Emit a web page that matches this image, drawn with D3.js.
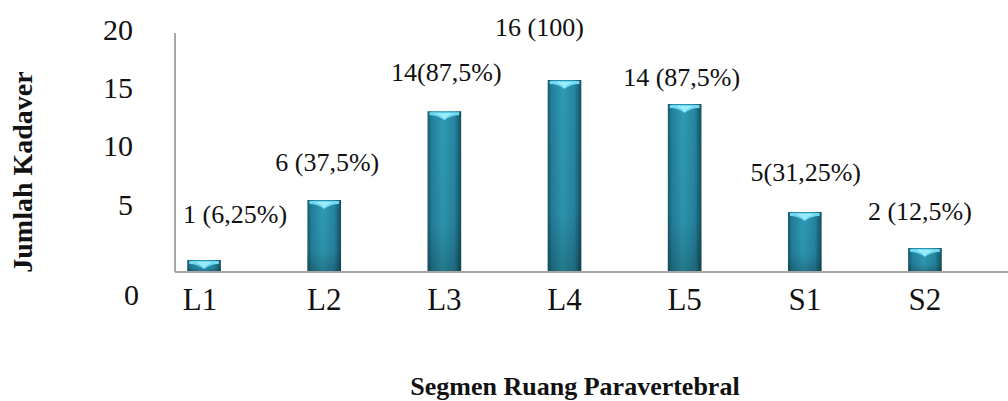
<!DOCTYPE html>
<html><head><meta charset="utf-8">
<script src="https://cdn.jsdelivr.net/npm/d3@7"></script>
<style>
body{margin:0;background:#fff}
svg{display:block}
svg text{font-family:"Liberation Serif","Times New Roman",Times,serif !important}
</style>
</head><body>
<script>
// ---- data ----
const categories = ["L1","L2","L3","L4","L5","S1","S2"];
const counts = [1, 6, 13.4, 16, 14, 5, 2];
const valueLabels = ["1 (6,25%)","6 (37,5%)","14(87,5%)","16 (100)","14 (87,5%)","5(31,25%)","2 (12,5%)"];
const yTicks = [0, 5, 10, 15, 20];
const yTitle = "Jumlah Kadaver";
const xTitle = "Segmen Ruang Paravertebral";

// ---- layout / style (kept apart from data) ----
const W = 1008, H = 401;
const axisX = 175, baseY = 272, topY = 32;
const labelNudgeX = [31, 3, 2, -25, -3, 1, -5];
const labelNudgeY = [-6, 2, 1, -13, 13, 0, 3];
const tickShiftY = [23, -7, -6, -4, -2];
const tickShiftX = [6, 0, 0, 0, 0];

const svg = d3.select("body").append("svg").attr("width", W).attr("height", H);
const defs = svg.append("defs");
const g1 = defs.append("linearGradient").attr("id","barG").attr("x1","0").attr("x2","1").attr("y1","0").attr("y2","0");
[["0%","#175a6d"],["12%","#23809a"],["45%","#2f9ab6"],["80%","#2686a1"],["100%","#134f60"]]
  .forEach(([o,c]) => g1.append("stop").attr("offset",o).attr("stop-color",c));
const g2 = defs.append("linearGradient").attr("id","shadeG").attr("x1","0").attr("x2","0").attr("y1","0").attr("y2","1");
[["0%","#000",0],["70%","#000",0.05],["100%","#000",0.22]]
  .forEach(([o,c,a]) => g2.append("stop").attr("offset",o).attr("stop-color",c).attr("stop-opacity",a));

const x = d3.scaleBand().domain(categories).range([144, 985]).paddingInner(0.72).paddingOuter(0.36);
const y = d3.scaleLinear().domain([0, 20]).range([baseY, topY]);

// axes lines
svg.append("line").attr("x1", axisX).attr("x2", axisX).attr("y1", y(20)+1).attr("y2", baseY)
  .attr("stroke", "#a6a6a6").attr("stroke-width", 2);
svg.append("line").attr("x1", axisX).attr("x2", W).attr("y1", baseY).attr("y2", baseY)
  .attr("stroke", "#a6a6a6").attr("stroke-width", 2);

// y axis tick labels
const ya = svg.append("g").attr("transform", `translate(${axisX - 42},0)`)
  .call(d3.axisLeft(y).tickValues(yTicks).tickSize(0).tickPadding(0));
ya.select(".domain").remove();
ya.selectAll("text").style("font-size", "30px").attr("fill", "#111")
  .attr("transform", (d, i) => `translate(${tickShiftX[i]},${tickShiftY[i]})`);

// category labels
const xa = svg.append("g").attr("transform", `translate(0,${baseY})`)
  .call(d3.axisBottom(x).tickSize(0).tickPadding(16));
xa.select(".domain").remove();
xa.selectAll("text").style("font-size", "31px").attr("fill", "#111")
  .attr("dx", (d, i) => i === 0 ? -4 : 0);

// bars
const bars = svg.append("g").selectAll("g").data(categories).join("g");
bars.append("rect")
  .attr("x", d => x(d)).attr("width", x.bandwidth())
  .attr("y", (d, i) => y(counts[i])).attr("height", (d, i) => baseY - 1 - y(counts[i]))
  .attr("fill", "url(#barG)");
bars.append("rect")
  .attr("x", d => x(d)).attr("width", x.bandwidth())
  .attr("y", (d, i) => y(counts[i])).attr("height", (d, i) => baseY - 1 - y(counts[i]))
  .attr("fill", "url(#shadeG)");
// top cap highlight
bars.append("path")
  .attr("d", (d, i) => {
    const x0 = x(d) + 2, w = x.bandwidth() - 4, t = y(counts[i]) + 1;
    return `M${x0},${t} L${x0 + w},${t} L${x0 + w},${t + 3} Q${x0 + w * 0.72},${t + 3} ${x0 + w / 2},${t + 8} Q${x0 + w * 0.28},${t + 3} ${x0},${t + 3} Z`;
  })
  .attr("fill", "#6fd8f0");
bars.append("path")
  .attr("d", (d, i) => {
    const x0 = x(d) + 8, w = x.bandwidth() - 16, t = y(counts[i]) + 2;
    return `M${x0},${t} L${x0 + w},${t} Q${x0 + w * 0.7},${t + 2} ${x0 + w / 2},${t + 6} Q${x0 + w * 0.3},${t + 2} ${x0},${t} Z`;
  })
  .attr("fill", "#a8f2ff").attr("opacity", 0.8);

// value labels
svg.append("g").selectAll("text").data(categories).join("text")
  .attr("x", (d, i) => x(d) + x.bandwidth() / 2 + labelNudgeX[i])
  .attr("y", (d, i) => y(counts[i]) - 40 + labelNudgeY[i])
  .attr("dy", "0.35em")
  .attr("text-anchor", "middle")
  .style("font-size", "26px").attr("fill", "#111")
  .text((d, i) => valueLabels[i]);

// titles
svg.append("text")
  .attr("transform", `translate(32,172) rotate(-90)`)
  .attr("text-anchor", "middle")
  .style("font-weight", "bold").style("font-size", "28px").attr("fill", "#111")
  .text(yTitle);
svg.append("text")
  .attr("x", 575).attr("y", 395)
  .attr("text-anchor", "middle")
  .style("font-weight", "bold").style("font-size", "26px").attr("fill", "#111")
  .text(xTitle);
</script>
</body></html>
